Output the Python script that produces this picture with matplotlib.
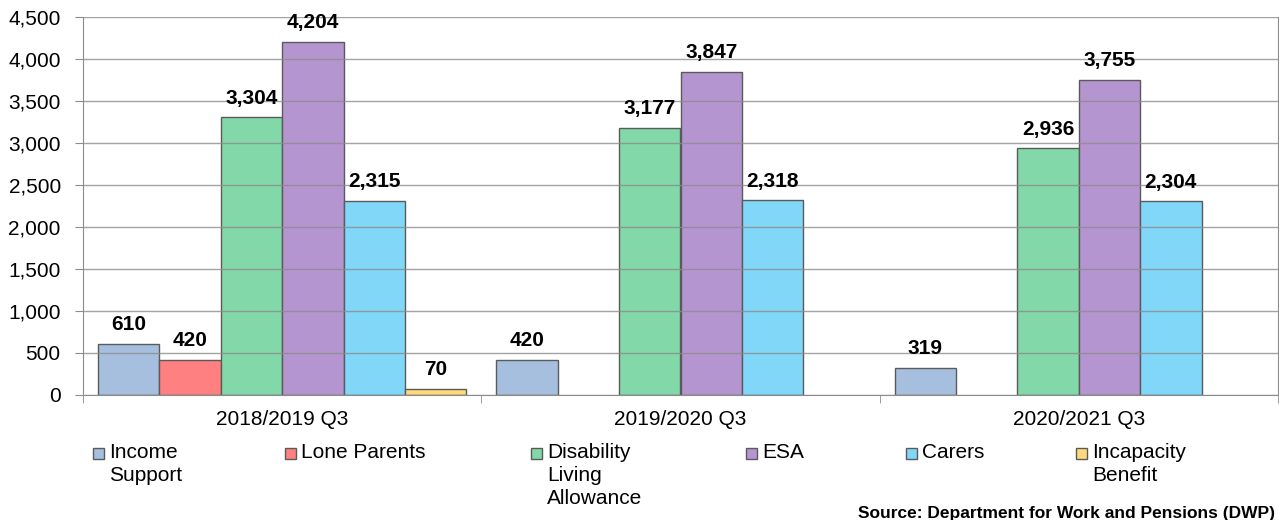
import numpy as np
import matplotlib.pyplot as plt
from matplotlib.patches import Rectangle

plt.rcParams['font.family'] = ['Liberation Sans', 'DejaVu Sans']

# Données (milliers de demandeurs)
periods = ['2018/2019 Q3', '2019/2020 Q3', '2020/2021 Q3']
series = ['Income Support', 'Lone Parents', 'Disability Living Allowance',
          'ESA', 'Carers', 'Incapacity Benefit']
legend_labels = ['Income\nSupport', 'Lone Parents', 'Disability\nLiving\nAllowance',
                 'ESA', 'Carers', 'Incapacity\nBenefit']
income_support = [610, 420, 319]
lone_parents = [420, np.nan, np.nan]
dla = [3304, 3177, 2936]
esa = [4204, 3847, 3755]
carers = [2315, 2318, 2304]
incapacity = [70, np.nan, np.nan]
values = [income_support, lone_parents, dla, esa, carers, incapacity]
colors = ['#A7BFDE', '#FF8080', '#82D8A8', '#B595CF', '#80D7F8', '#FFD97A']

W, H = 1279, 520
fig = plt.figure(figsize=(W / 100, H / 100), dpi=100)
ax = fig.add_axes([83 / W, 1 - 395 / H, 1195 / W, 378 / H])

x = np.arange(len(periods))
w = 0.154
for i, (vals, col) in enumerate(zip(values, colors)):
    pos = x + (i - 2.5) * w
    bars = ax.bar(pos, vals, w, color=col, edgecolor='#5A5A5A', linewidth=1, zorder=2)
    for b, v in zip(bars, vals):
        if np.isnan(v):
            continue
        ax.annotate(f'{int(v):,}', (b.get_x() + b.get_width() / 2, v),
                    xytext=(0, 7), textcoords='offset points',
                    ha='center', va='bottom', fontsize=15, fontweight='bold')

ax.set_xlim(-0.5, 2.5)
ax.set_ylim(0, 4500)
ax.set_yticks(np.arange(0, 4501, 500))
ax.set_yticklabels([f'{t:,}' for t in range(0, 4501, 500)], fontsize=15)
ax.set_xticks(x)
ax.set_xticklabels(periods, fontsize=15)
ax.set_xticks([-0.5, 0.5, 1.5, 2.5], minor=True)
ax.tick_params(axis='x', which='major', length=0, pad=11)
ax.tick_params(axis='x', which='minor', length=6, color='#8C8C8C')
ax.tick_params(axis='y', length=6, color='#8C8C8C', pad=10)
ax.yaxis.grid(True, color='#8C8C8C', linewidth=1, alpha=0.8)
ax.set_axisbelow(False)
for s in ax.spines.values():
    s.set_color('#8C8C8C')
ax.spines['top'].set_visible(False)

# Légende dessinée à la main (carré aligné sur la première ligne)
legend_x = [93, 285, 531, 746, 906, 1076]
for lab, col, lx in zip(legend_labels, colors, legend_x):
    fig.add_artist(Rectangle((lx / W, 1 - 459 / H), 11 / W, 11 / H,
                             facecolor=col, edgecolor='#5A5A5A', linewidth=1,
                             transform=fig.transFigure))
    fig.text((lx + 16) / W, 1 - 443 / H, lab, ha='left', va='top',
             fontsize=15, linespacing=1.25)

fig.text(858 / W, 1 - 506 / H, 'Source: Department for Work and Pensions (DWP)',
         ha='left', va='top', fontsize=12.5, fontweight='bold')

fig.savefig('out.png', dpi=100)
